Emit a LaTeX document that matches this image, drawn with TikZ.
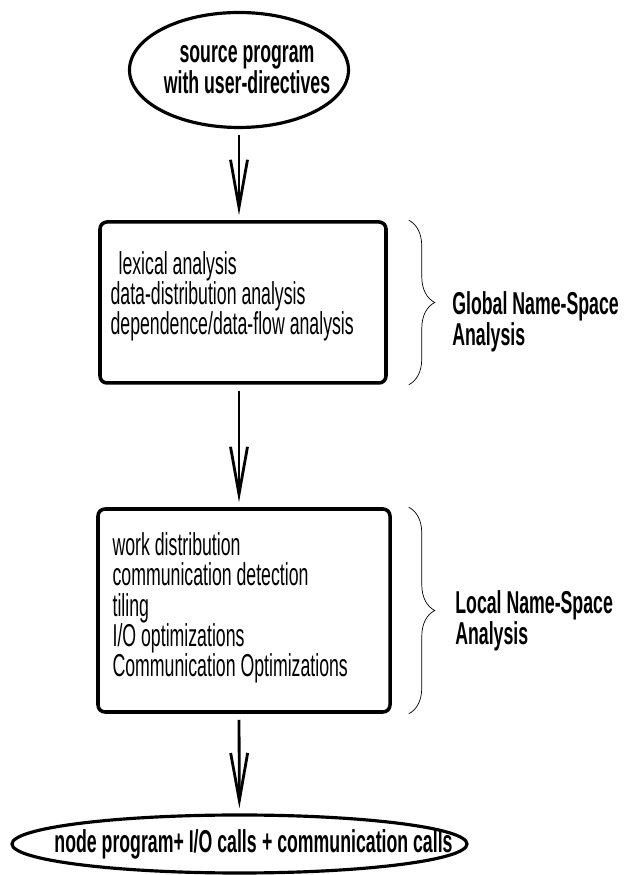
\documentclass[tikz,border=0pt]{standalone}
\usepackage{fontspec}
\setmainfont[FakeStretch=0.56]{Liberation Sans}
\usetikzlibrary{positioning}
\usetikzlibrary{arrows.meta, shapes.geometric, decorations.pathreplacing}

\tikzset{
  terminal/.style={ellipse, draw, line width=1.8pt, inner sep=-0.3cm, align=center,
    font=\bfseries\fontsize{18}{17.6}\selectfont},
  phase/.style={rectangle, draw, rounded corners=0.14cm, line width=2pt, inner sep=0pt},
  steps/.style={align=left, inner sep=0pt, anchor=west, font=\fontsize{18}{17.2}\selectfont},
  flow/.style={line width=1.6pt, -{Straight Barb[length=0.95cm,width=0.34cm]},
    shorten <=0.12cm, shorten >=0.1cm},
  stage/.style={draw, thin, decorate, decoration={brace, amplitude=0.52cm}},
  stagelabel/.style={align=left, inner sep=0pt, anchor=west,
    font=\bfseries\fontsize{18}{15}\selectfont}
}

\begin{document}
\begin{tikzpicture}
\useasboundingbox (0,0) rectangle (12.46,17.5);

\node[terminal, minimum width=4.38cm, minimum height=2.30cm] (source) at (4.78,16.10) {\hspace*{0.32cm}source program\\\hspace*{0.32cm}with user-directives};

\node[phase, minimum width=5.72cm, minimum height=3.22cm] (global) at (4.86,11.45) {};
\node[steps] (globalsteps) at ([xshift=0.24cm,yshift=0.12cm]global.west) {\hspace*{0.16cm}lexical analysis\\data-distribution analysis\\dependence/data-flow analysis};

\node[phase, minimum width=5.84cm, minimum height=4.06cm] (local) at (4.88,5.29) {};
\node[steps] (localsteps) at ([xshift=0.32cm,yshift=0.05cm]local.west) {work distribution\\communication detection\\tiling\\I/O optimizations\\Communication Optimizations};

\node[terminal, minimum width=9.1cm, minimum height=1.16cm, inner xsep=-1.3cm] (target) at (4.79,0.62) {\hspace*{0.56cm}node program+ I/O calls\,+ communication calls};

\draw[flow] (source) -- (source |- global.north);
\draw[flow] (global.south -| source) -- (local.north -| source);
\draw[flow] (local.south -| source) -- (target);

\draw[stage] ([xshift=0.42cm]global.north east) -- ([xshift=0.42cm]global.south east);
\node[stagelabel] (globallabel) at (9.04,11.06) {Global Name-Space\\Analysis};

\draw[stage] ([xshift=0.34cm]local.north east) -- ([xshift=0.34cm]local.south east);
\node[stagelabel] (locallabel) at (9.10,5.08) {Local Name-Space\\Analysis};

\end{tikzpicture}
\end{document}
